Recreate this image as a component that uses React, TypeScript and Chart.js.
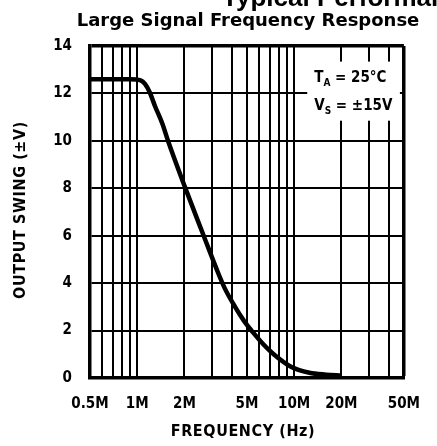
import React, { useEffect, useRef } from 'react';
import { Chart, registerables } from 'chart.js';

Chart.register(...registerables);

// ---- data ----
const freqHz = [0.5e6, 0.9e6, 1.05e6, 1.12e6, 1.2e6, 1.3e6, 1.45e6, 1.57e6, 2e6, 2.65e6, 3.2e6, 3.6e6, 4.2e6, 4.8e6, 5.5e6, 6.4e6, 7.4e6, 9.4e6, 12.5e6, 16e6, 20e6];
const swingV = [12.6, 12.6, 12.55, 12.4, 12.05, 11.45, 10.7, 10.0, 8.1, 6.0, 4.6, 3.8, 3.0, 2.4, 1.9, 1.4, 1.0, 0.5, 0.22, 0.14, 0.1];

const xGridHz = [0.5e6, 0.6e6, 0.7e6, 0.8e6, 0.9e6, 1e6, 2e6, 3e6, 4e6, 5e6, 6e6, 7e6, 8e6, 9e6, 10e6, 20e6, 30e6, 40e6, 50e6];
const xLabelHz = [0.5e6, 1e6, 2e6, 5e6, 10e6, 20e6, 50e6];
const xLabelText = ['0.5M', '1M', '2M', '5M', '10M', '20M', '50M'];
const yTicks = [0, 2, 4, 6, 8, 10, 12, 14];

const superTitle = 'Typical Performance Characteristics';
const chartTitle = 'Large Signal Frequency Response';
const xTitle = 'FREQUENCY (Hz)';
const yTitle = 'OUTPUT SWING (±V)';
const note1 = ['T', 'A', ' = 25°C'];
const note2 = ['V', 'S', ' = ±15V'];

const COND = '"DejaVu Sans Condensed", "Liberation Sans Narrow", "Liberation Sans", sans-serif';
const SANS = '"Liberation Sans", Arial, sans-serif';

const textPlugin = {
  id: 'textPlugin',
  beforeDraw(chart: any) {
    const ctx = chart.ctx;
    ctx.save();
    ctx.fillStyle = '#fff';
    ctx.fillRect(0, 0, chart.width, chart.height);
    ctx.restore();
  },
  afterDraw(chart: any) {
    const ctx = chart.ctx;
    const a = chart.chartArea;
    const w = a.right - a.left;
    const h = a.bottom - a.top;
    ctx.save();
    ctx.fillStyle = '#000';

    // cropped super title (top of the page, mostly cut off)
    ctx.font = 'bold 26px ' + SANS;
    ctx.textAlign = 'left';
    ctx.textBaseline = 'alphabetic';
    ctx.fillText(superTitle, 222, 6);

    // chart title
    ctx.font = 'bold 18px "DejaVu Sans", sans-serif';
    ctx.textAlign = 'center';
    ctx.fillText(chartTitle, 248, 26);

    // x title
    ctx.font = 'bold 16px ' + COND;
    try { (ctx as any).letterSpacing = '0.6px'; } catch (e) {}
    ctx.fillText(xTitle, 243, 436);

    // y title
    ctx.save();
    ctx.translate(25, (a.top + a.bottom) / 2 - 2);
    ctx.rotate(-Math.PI / 2);
    ctx.textAlign = 'center';
    ctx.fillText(yTitle, 0, 0);
    ctx.restore();
    try { (ctx as any).letterSpacing = '0px'; } catch (e) {}

    // note box
    const bx = a.left + w * 0.692;
    const by = a.top + h * 0.047;
    ctx.fillStyle = '#fff';
    ctx.fillRect(bx, by, a.right - 4 - bx, h * 0.178);
    ctx.fillStyle = '#000';
    ctx.textAlign = 'left';
    const drawNote = (parts: string[], x: number, y: number) => {
      ctx.font = 'bold 15px ' + COND;
      ctx.fillText(parts[0], x, y);
      x += ctx.measureText(parts[0]).width;
      ctx.font = 'bold 10px ' + COND;
      ctx.fillText(parts[1], x, y + 4);
      x += ctx.measureText(parts[1]).width;
      ctx.font = 'bold 15px ' + COND;
      ctx.fillText(parts[2], x, y);
    };
    drawNote(note1, bx + 7, a.top + h * 0.108);
    drawNote(note2, bx + 7, a.top + h * 0.192);
    ctx.restore();
  },
};

export default function App() {
  const ref = useRef<HTMLCanvasElement | null>(null);
  useEffect(() => {
    if (!ref.current) return;
    const chart = new Chart(ref.current, {
      type: 'line',
      data: {
        datasets: [
          {
            data: freqHz.map((f, i) => ({ x: f, y: swingV[i] })),
            borderColor: '#000',
            borderWidth: 4.5,
            pointRadius: 0,
            cubicInterpolationMode: 'monotone',
            fill: false,
          },
        ],
      },
      options: {
        responsive: false,
        animation: false,
        layout: { padding: { top: 46, right: 20, left: 0, bottom: 0 } },
        plugins: { legend: { display: false }, title: { display: false }, tooltip: { enabled: false } },
        scales: {
          x: {
            type: 'logarithmic',
            min: 0.5e6,
            max: 50e6,
            afterBuildTicks: (s: any) => {
              s.ticks = xGridHz.map((v) => ({ value: v }));
            },
            afterFit: (s: any) => {
              s.height = 68;
            },
            ticks: {
              autoSkip: false,
              maxRotation: 0,
              padding: 17,
              color: '#000',
              font: { family: COND, size: 15, weight: 'bold' },
              callback: (v: any) => {
                const i = xLabelHz.findIndex((q) => Math.abs(q - Number(v)) < 1);
                return i >= 0 ? xLabelText[i] : '';
              },
            },
            grid: {
              color: '#000',
              drawTicks: false,
              lineWidth: (c: any) => (c.index === xGridHz.length - 1 ? 3.5 : 2),
            },
            border: { color: '#000', width: 3.5 },
          },
          y: {
            min: 0,
            max: 14,
            afterBuildTicks: (s: any) => {
              s.ticks = yTicks.map((v) => ({ value: v }));
            },
            afterFit: (s: any) => {
              s.width = 90;
            },
            ticks: {
              padding: 18,
              color: '#000',
              font: { family: COND, size: 15, weight: 'bold' },
            },
            grid: {
              color: '#000',
              drawTicks: false,
              lineWidth: (c: any) => (c.tick && c.tick.value === 14 ? 3.5 : 2),
            },
            border: { color: '#000', width: 3.5 },
          },
        },
      },
      plugins: [textPlugin],
    } as any);
    return () => chart.destroy();
  }, []);
  return (
    <div style={{ position: 'absolute', left: 0, top: 0, width: 437, height: 446 }}>
      <canvas ref={ref} width={437} height={446} />
    </div>
  );
}
